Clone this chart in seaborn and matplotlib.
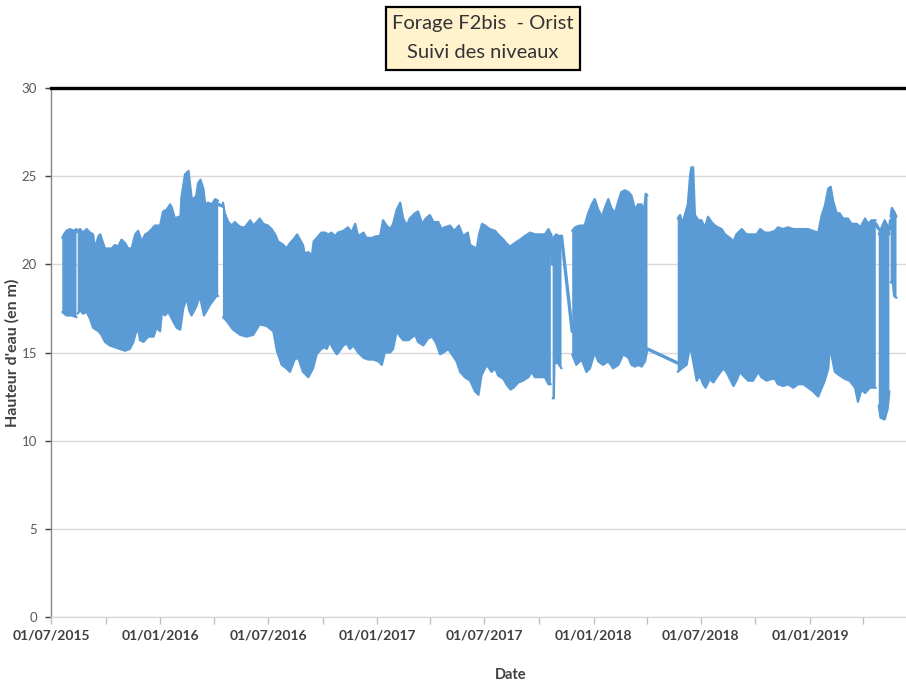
import numpy as np
import pandas as pd
import matplotlib
matplotlib.use("Agg")
import matplotlib.pyplot as plt
import matplotlib.dates as mdates
from matplotlib.patches import Rectangle
import seaborn as sns

# ---------------------------------------------------------------------------
# Borehole F2bis (Orist): daily high / low water level, in days since 01/07/2015
# ---------------------------------------------------------------------------
debut = pd.Timestamp("2015-07-01")
fin_axe = 1442  # last day shown on the time axis

# first day of each continuous recording period
debuts_periodes = [19, 45, 290, 846, 879, 1057, 1396, 1416]

jours_haut = [
    19, 22, 26, 32, 38, 43,
    45, 49, 54, 60, 66, 71, 74, 80, 83, 88, 91, 97, 102, 108, 113, 119, 125, 130,
    136, 142, 147, 153, 159, 164, 170, 175, 184, 189, 195, 201, 204, 209, 215, 218,
    220, 226, 232, 237, 240, 245, 248, 252, 257, 260, 265, 271, 277, 282,
    290, 293, 299, 305, 310, 316, 322, 327, 336, 341, 347, 352, 358, 366, 372, 378,
    383, 392, 397, 403, 411, 415, 420, 425, 428, 434, 440, 443, 451, 456, 462, 468,
    473, 479, 484, 493, 501, 507, 513, 518, 527, 532, 541, 549, 555, 560, 566, 572,
    577, 583, 589, 594, 600, 605, 614, 619, 626, 632, 639, 645, 653, 659, 664, 673,
    680, 688, 695, 703, 707, 712, 718, 722, 727, 732, 740, 749, 754, 763, 768, 774,
    782, 791, 799, 808, 816, 825, 833, 839, 843,
    846, 847, 852, 857, 861,
    879, 884, 892, 900, 906, 912, 917, 923, 929, 934, 940, 945, 951, 957, 962, 968,
    974, 979, 985, 990, 996, 1000, 1003, 1006,
    1057, 1061, 1065, 1069, 1074, 1078, 1080, 1083, 1086, 1092, 1097, 1103, 1108,
    1114, 1120, 1125, 1131, 1137, 1145, 1151, 1156, 1165, 1173, 1182, 1190, 1196,
    1204, 1212, 1221, 1226, 1235, 1243, 1252, 1260, 1269, 1277, 1285, 1294, 1300,
    1305, 1311, 1315, 1319, 1325, 1330, 1336, 1344, 1350, 1359, 1365, 1373, 1378,
    1384, 1391,
    1396, 1401, 1406, 1412, 1414,
    1416, 1418, 1422, 1426,
]
niveau_haut = [
    21.5, 21.7, 21.9, 22.0, 21.9, 22.0,
    21.9, 22.0, 21.8, 22.0, 21.8, 21.7, 20.9, 21.6, 21.7, 21.2, 20.9, 20.9, 20.9, 21.1,
    21.0, 21.4, 21.2, 20.9, 20.9, 21.7, 21.9, 21.3, 21.7, 21.8, 22.0, 22.2, 22.2, 23.0,
    23.1, 23.4, 23.2, 22.6, 22.7, 22.5, 23.8, 25.1, 25.3, 23.8, 23.7, 23.9, 24.6, 24.8,
    24.3, 23.4, 23.5, 23.4, 23.7, 23.6,
    23.5, 22.9, 22.4, 22.2, 22.4, 22.2, 22.1, 22.1, 22.5, 22.2, 22.4, 22.6, 22.3, 22.2,
    22.0, 21.7, 21.3, 21.1, 20.9, 21.2, 21.5, 21.7, 21.4, 21.1, 20.6, 20.7, 20.5, 21.3,
    21.6, 21.8, 21.8, 21.7, 21.8, 21.6, 21.8, 21.9, 22.1, 21.8, 22.3, 21.6, 21.8, 21.5,
    21.5, 21.6, 21.6, 22.5, 22.2, 22.0, 22.3, 23.1, 23.5, 22.6, 22.2, 22.6, 22.9, 23.0,
    22.3, 22.6, 22.8, 22.4, 22.4, 22.0, 22.1, 22.2, 21.9, 22.2, 21.6, 21.8, 21.1, 21.0,
    20.9, 21.7, 22.3, 22.2, 22.0, 21.9, 21.7, 21.4, 21.2, 21.0, 21.2, 21.4, 21.6, 21.8,
    21.7, 21.7, 21.7, 22.0, 21.7,
    20.0, 21.5, 21.7, 21.6, 21.6,
    21.9, 22.1, 22.2, 22.2, 22.9, 23.4, 23.7, 23.1, 22.7, 23.2, 23.7, 23.2, 22.9, 23.6,
    24.1, 24.2, 24.1, 23.9, 23.1, 23.4, 23.4, 23.0, 24.0, 23.9,
    22.6, 22.8, 22.3, 22.8, 23.4, 25.1, 25.5, 25.5, 22.8, 22.5, 22.5, 22.1, 22.7, 22.4,
    22.2, 22.1, 22.0, 21.7, 21.5, 21.3, 21.7, 22.0, 21.7, 21.7, 21.7, 22.0, 21.8, 21.8,
    21.9, 22.1, 22.0, 22.1, 22.0, 22.0, 22.0, 22.0, 21.9, 21.8, 22.8, 23.3, 24.3, 24.4,
    23.6, 22.9, 22.9, 22.6, 22.6, 22.3, 22.3, 22.1, 22.6, 22.3, 22.5, 22.5,
    21.7, 22.1, 22.5, 22.1, 21.7,
    22.7, 23.2, 23.0, 22.7,
]

jours_bas = [
    19, 26, 35, 43,
    45, 49, 54, 60, 66, 71, 80, 85, 91, 99, 108, 116, 125, 133, 139, 142, 147, 150,
    156, 164, 173, 178, 184, 187, 192, 198, 204, 212, 218, 223, 229, 233, 237, 245,
    251, 258, 268, 279, 282,
    290, 296, 307, 319, 330, 341, 352, 364, 375, 381, 389, 397, 403, 411, 417, 425,
    434, 442, 448, 456, 462, 465, 470, 476, 482, 487, 493, 499, 504, 510, 518, 527,
    535, 543, 552, 558, 563, 572, 577, 583, 589, 594, 603, 614, 619, 628, 636, 643,
    650, 656, 662, 670, 676, 684, 690, 698, 707, 715, 721, 726, 732, 735, 743, 749,
    754, 763, 768, 775, 780, 788, 796, 805, 811, 816, 825, 833, 839, 843,
    846, 848, 849, 855, 861,
    879, 886, 895, 903, 909, 917, 923, 931, 940, 948, 957, 965, 974, 979, 985, 990,
    996, 1002, 1006,
    1057, 1064, 1072, 1078, 1083, 1089, 1094, 1100, 1104, 1111, 1117, 1125, 1134,
    1139, 1145, 1151, 1156, 1162, 1167, 1176, 1184, 1193, 1198, 1207, 1215, 1221,
    1226, 1235, 1243, 1252, 1260, 1269, 1277, 1285, 1294, 1300, 1305, 1311, 1314,
    1316, 1322, 1330, 1339, 1347, 1356, 1361, 1367, 1373, 1381, 1391,
    1396, 1399, 1406, 1411, 1414,
    1416, 1420, 1422, 1426,
]
niveau_bas = [
    17.3, 17.1, 17.1, 17.0,
    17.2, 17.4, 17.2, 17.3, 16.9, 16.4, 16.2, 16.0, 15.6, 15.4, 15.3, 15.2, 15.1, 15.2,
    15.6, 16.0, 16.4, 15.7, 15.6, 15.9, 15.9, 16.4, 16.2, 17.3, 17.1, 17.3, 16.9, 16.4,
    16.3, 17.5, 18.1, 17.4, 17.1, 17.6, 18.2, 17.1, 17.7, 18.2, 18.2,
    17.0, 16.8, 16.3, 16.0, 15.9, 16.0, 16.6, 16.5, 16.2, 15.1, 14.3, 14.1, 13.9, 14.6,
    14.7, 13.9, 13.6, 14.1, 14.9, 15.2, 15.3, 15.2, 15.6, 15.2, 14.9, 15.1, 15.4, 15.5,
    15.2, 15.4, 15.0, 14.7, 14.6, 14.6, 14.5, 14.3, 15.0, 15.0, 15.2, 16.2, 15.9, 15.7,
    15.7, 16.0, 15.6, 15.4, 15.8, 15.9, 15.5, 14.9, 15.0, 15.2, 14.9, 14.5, 13.9, 13.6,
    13.4, 12.8, 12.6, 13.7, 14.1, 14.3, 13.9, 14.1, 13.7, 13.5, 13.2, 12.9, 13.0, 13.3,
    13.4, 13.6, 13.9, 13.6, 13.6, 13.6, 13.2, 13.2,
    12.4, 12.4, 14.4, 14.4, 14.1,
    14.9, 14.3, 14.6, 13.9, 14.1, 15.0, 14.5, 14.3, 14.5, 14.1, 14.3, 14.9, 14.7, 14.3,
    14.2, 14.3, 14.2, 14.5, 15.2,
    13.9, 14.1, 14.3, 15.4, 14.5, 13.4, 13.7, 13.2, 13.0, 13.5, 13.3, 13.7, 14.1, 13.9,
    13.5, 13.1, 13.4, 13.9, 13.7, 13.4, 13.4, 13.9, 13.6, 13.4, 13.5, 13.5, 13.2, 13.1,
    13.2, 13.0, 13.2, 13.2, 13.0, 12.8, 12.5, 13.0, 13.4, 14.1, 15.7, 14.9, 13.9, 13.7,
    13.5, 13.4, 13.0, 12.2, 12.9, 12.7, 13.0, 13.0,
    12.0, 11.3, 11.2, 11.8, 12.8,
    19.0, 18.9, 18.2, 18.1,
]

# straight joins drawn by the chart across the missing-data intervals
liaisons_jours = [[43, 45], [282, 290], [843, 846], [861, 879],
                  [1006, 1057], [1391, 1396], [1414, 1416]]
liaisons_niveau = [[21.9, 21.9], [23.4, 23.3], [21.7, 20.0], [21.6, 16.2],
                   [15.2, 14.4], [22.3, 22.0], [22.0, 22.5]]

y_ticks = [0, 5, 10, 15, 20, 25, 30]

BLEU = "#5B9BD5"
GRIS_TEXTE = "#404040"


def en_dates(jours):
    """Day offsets -> matplotlib date numbers."""
    j = np.asarray(jours, dtype=float)
    return mdates.date2num(debut + pd.to_timedelta(j, unit="D"))


sns.set_style("white")
plt.rcParams["font.family"] = ["Lato", "DejaVu Sans"]

fig = plt.figure(figsize=(9.06, 6.82), dpi=100)
ax = fig.add_axes([51 / 906, 1 - 617 / 682, 1 - 51 / 906, (617 - 88) / 682])

jh = np.asarray(jours_haut, float)
nh = np.asarray(niveau_haut, float)
jb = np.asarray(jours_bas, float)
nb = np.asarray(niveau_bas, float)
bornes = list(debuts_periodes) + [np.inf]

for lo, hi in zip(bornes[:-1], bornes[1:]):
    mh = (jh >= lo) & (jh < hi)
    mb = (jb >= lo) & (jb < hi)
    xh, yh = en_dates(jh[mh]), nh[mh]
    xb, yb = en_dates(jb[mb]), nb[mb]
    # band between the daily highs and lows
    ax.fill(np.concatenate([xh, xb[::-1]]), np.concatenate([yh, yb[::-1]]),
            color=BLEU, lw=0, zorder=3)
    sns.lineplot(x=xh, y=yh, ax=ax, color=BLEU, lw=1.6, sort=False,
                 estimator=None, zorder=3)
    sns.lineplot(x=xb, y=yb, ax=ax, color=BLEU, lw=1.6, sort=False,
                 estimator=None, zorder=3)

for jj, nn in zip(liaisons_jours, liaisons_niveau):
    sns.lineplot(x=en_dates(jj), y=nn, ax=ax, color=BLEU, lw=2.4, sort=False,
                 estimator=None, zorder=3, solid_capstyle="round")

# axes styling
ax.set_xlim(en_dates([0])[0], en_dates([fin_axe])[0])
ax.set_ylim(0, 30)
ax.set_yticks(y_ticks)
ax.xaxis.set_major_locator(mdates.MonthLocator(bymonth=(1, 7)))
ax.xaxis.set_minor_locator(mdates.MonthLocator(bymonth=(4, 10)))
ax.xaxis.set_major_formatter(mdates.DateFormatter("%d/%m/%Y"))

ax.yaxis.grid(True, color="#d9d9d9", lw=1, zorder=0)
ax.xaxis.grid(False)
ax.set_axisbelow(True)

ax.spines["right"].set_visible(False)
ax.spines["top"].set_color("black")
ax.spines["top"].set_linewidth(2.4)
ax.spines["left"].set_color("#868686")
ax.spines["left"].set_linewidth(1.0)
ax.spines["bottom"].set_color("#d9d9d9")
ax.spines["bottom"].set_linewidth(1.0)

ax.tick_params(axis="x", which="both", direction="out", length=5, width=1,
               color="#bfbfbf", bottom=True, pad=4)
ax.tick_params(axis="x", which="major", labelsize=10, labelcolor=GRIS_TEXTE)
ax.tick_params(axis="y", which="major", direction="out", length=4, width=1,
               color="#404040", left=True, labelsize=9.5, labelcolor="#595959", pad=6)
for lab in ax.get_xticklabels():
    lab.set_fontweight("bold")

ax.set_xlabel("Date", fontsize=10.5, fontweight="bold", color=GRIS_TEXTE)
ax.xaxis.set_label_coords((511 - 51) / 855, (617 - 668) / 529)
ax.set_ylabel("Hauteur d'eau (en m)", fontsize=11.5, fontweight="bold",
              color=GRIS_TEXTE)
ax.yaxis.set_label_coords((20 - 51) / 855, 0.5)

# title box
fig.patches.append(Rectangle((386 / 906, 1 - 70 / 682), 194 / 906, 63 / 682,
                             transform=fig.transFigure, facecolor="#FFF2CC",
                             edgecolor="black", lw=1.6, zorder=5))
fig.text(483 / 906, 1 - 23 / 682, "Forage F2bis  - Orist", ha="center",
         va="center", fontsize=14.5, color="#333333", zorder=6)
fig.text(483 / 906, 1 - 53 / 682, "Suivi des niveaux", ha="center",
         va="center", fontsize=14.5, color="#333333", zorder=6)

fig.savefig("out.png", dpi=100)
